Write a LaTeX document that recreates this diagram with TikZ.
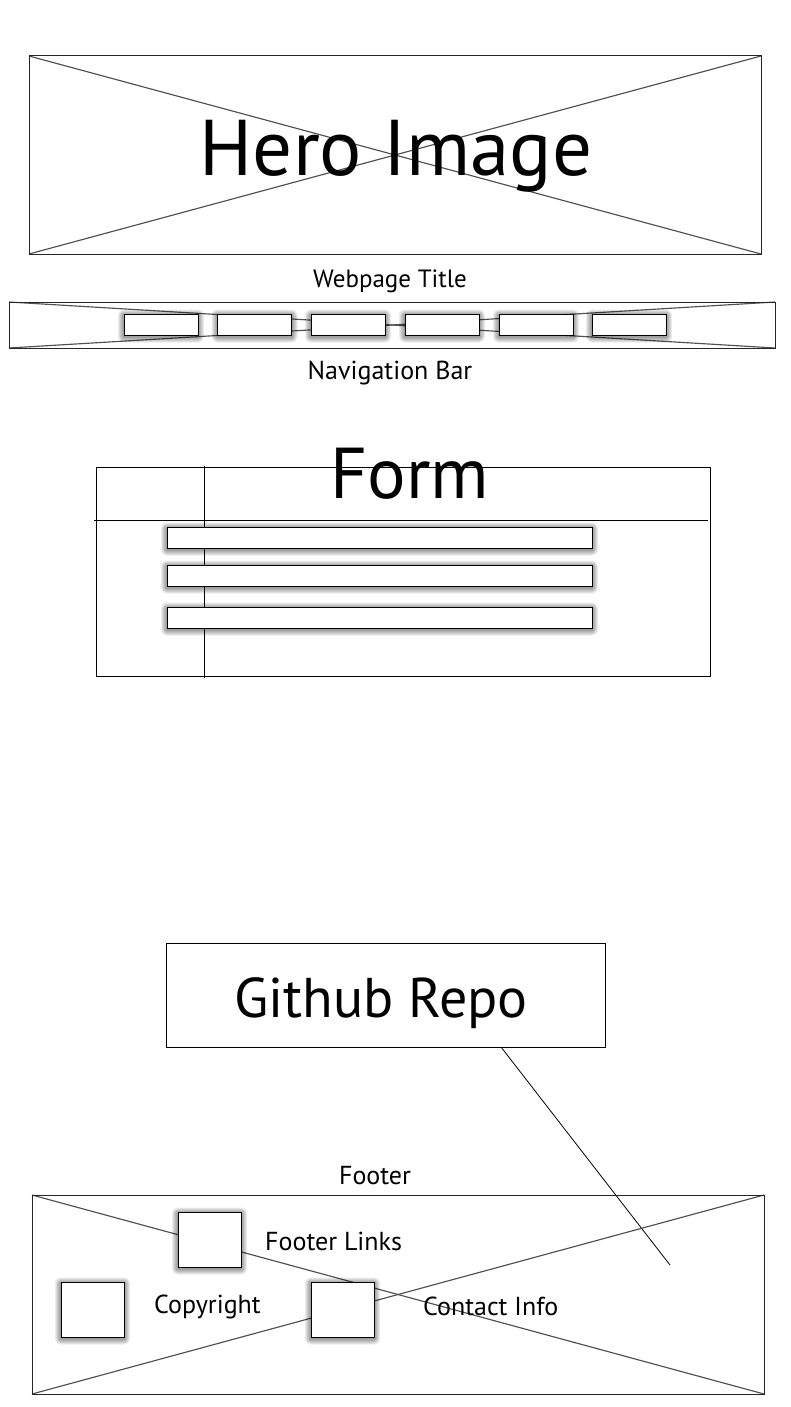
\documentclass[tikz,border=0pt]{standalone}
\usepackage{fontspec}
\setmainfont{PT Sans}
\definecolor{xline}{HTML}{505050}
\tikzset{
  frame/.style={draw=black!85, line width=1pt},
  xcross/.style={draw=xline, line width=1.15pt},
  plain/.style={draw=black, line width=0.9pt},
  boxline/.style={draw=black, line width=1pt, fill=white},
  shlayer/.style={fill=black, opacity=0.075},
  lbl/.style={inner sep=0pt, anchor=base, font=\fontsize{26}{30}\selectfont},
}
% #1 = top-left, #2 = bottom-right (in flipped coordinates)
\newcommand\wfbox[2]{%
  \foreach \r in {6,5,4,3,2,1}{%
    \fill[shlayer, rounded corners=\r pt]
      ([xshift=-\r pt, yshift=\r pt-1.5pt]#1) rectangle ([xshift=\r pt, yshift=-\r pt-1.5pt]#2);
  }%
  \draw[boxline] (#1) rectangle (#2);
}
\begin{document}
\begin{tikzpicture}[x=1pt,y=-1pt]
\useasboundingbox (0,0) rectangle (791,1407);
\fill[white] (0,0) rectangle (791,1407);
% Hero
\coordinate (h1) at (29,56); \coordinate (h2) at (761,254);
\draw[xcross] (h1) -- (h2); \draw[xcross] (h1 |- h2) -- (h2 |- h1);
\draw[frame] (h1) rectangle (h2);
\node[inner sep=0pt, anchor=base, font=\fontsize{79}{90}\selectfont] (hero) at (396,176) {Hero Image};
\node[lbl, font=\fontsize{25}{30}\selectfont] (wt) at (390,287) {Webpage Title};
% Nav bar
\coordinate (n1) at (9,302); \coordinate (n2) at (775,348);
\draw[xcross] (n1) -- (n2); \draw[xcross] (n1 |- n2) -- (n2 |- n1);
\draw[frame] (n1) rectangle (n2);
\foreach \x in {124,217.5,311,405,499,592}{
  \wfbox{\x,314}{\x+74,335}
}
\node[lbl] (nb) at (390,379) {Navigation Bar};
% Form
\coordinate (f1) at (96,467); \coordinate (f2) at (710,676);
\draw[plain] (f1) rectangle (f2);
\draw[plain] (204,466) -- (204,678);
\draw[plain] (94,520) -- (708,520);
\node[inner sep=0pt, anchor=base, font=\fontsize{72}{80}\selectfont] (form) at (410,498) {Form};
\foreach \y in {527,565,607}{
  \wfbox{167,\y}{592,\y+21}
}
% Github
\node[draw=black, line width=0.9pt, minimum width=439pt, minimum height=104pt, inner sep=0pt] (gh) at (385.5,995) {};
\node[inner sep=0pt, anchor=base, font=\fontsize{56}{64}\selectfont] (ghtext) at (381,1017) {Github Repo};
\coordinate (ghstart) at (501,1047);
\coordinate (ghend) at (670,1265);
\draw[black, line width=0.8pt] (ghstart) -- (ghend);
% Footer
\node[lbl] (ft) at (375,1184) {Footer};
\coordinate (o1) at (32,1195); \coordinate (o2) at (764,1394);
\draw[xcross] (o1) -- (o2); \draw[xcross] (o1 |- o2) -- (o2 |- o1);
\draw[frame] (o1) rectangle (o2);
\wfbox{178,1212}{241,1267}
\wfbox{61,1282}{124,1337}
\wfbox{311,1282}{374,1337}
\node[lbl, anchor=base west] (fl) at (265,1250) {Footer Links};
\node[lbl, anchor=base west] (cr) at (154,1313) {Copyright};
\node[lbl, anchor=base west] (ci) at (423,1315) {Contact Info};
\end{tikzpicture}
\end{document}
